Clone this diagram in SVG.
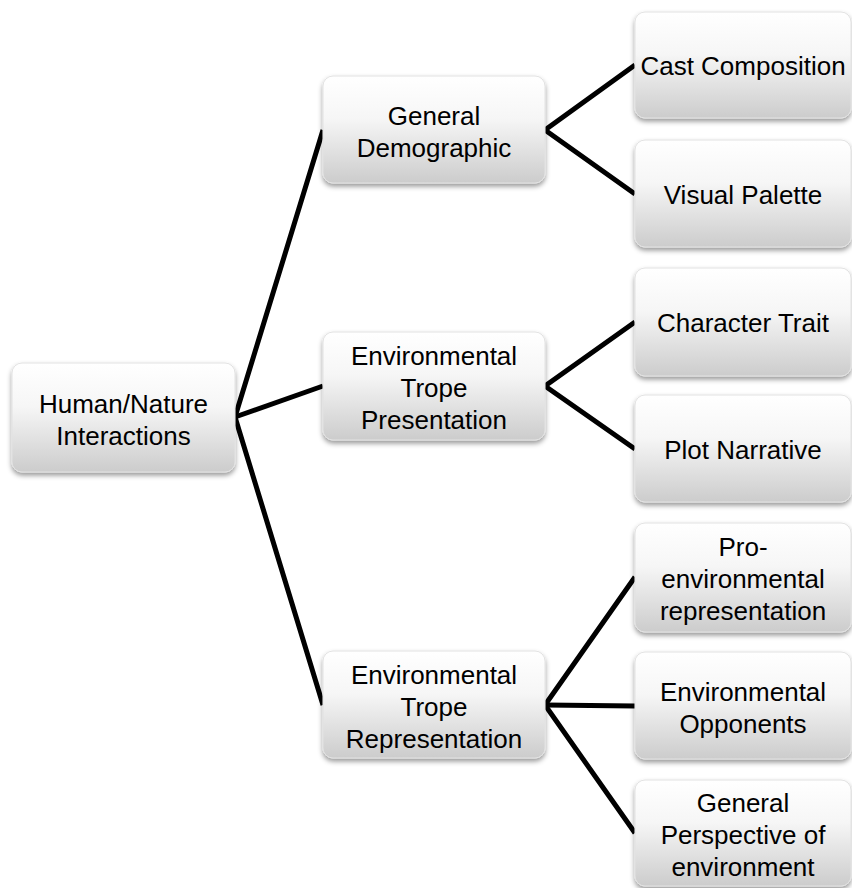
<svg xmlns="http://www.w3.org/2000/svg" width="852" height="888" viewBox="0 0 852 888">
<defs>
<linearGradient id="g" x1="0" y1="0" x2="0" y2="1">
<stop offset="0" stop-color="#ffffff"/>
<stop offset="0.4" stop-color="#f6f6f6"/>
<stop offset="1" stop-color="#cccccc"/>
</linearGradient>
<filter id="sh" x="-10%" y="-10%" width="120%" height="130%">
<feDropShadow dx="0" dy="3" stdDeviation="2.5" flood-color="#000" flood-opacity="0.4"/>
</filter>
</defs>
<style>
.box{fill:url(#g);stroke:#e2e2e2;stroke-width:1;filter:url(#sh)}
.t{font-family:"Liberation Sans",Arial,sans-serif;font-size:26px;fill:#000;text-anchor:middle}
.c{stroke:#000;stroke-width:5;fill:none;stroke-linejoin:miter;stroke-linecap:butt}
</style>
<rect width="852" height="888" fill="#fff"/>
<g id="connectors">
<polyline class="c" points="323,130 235,417 323,705"/>
<line class="c" x1="235" y1="417" x2="323" y2="386"/>
<polyline class="c" points="635,65 545,130 635,194"/>
<polyline class="c" points="635,322 545,386 635,449"/>
<polyline class="c" points="635,577 545,705 635,833"/>
<line class="c" x1="545" y1="705" x2="635" y2="706"/>
</g>
<g id="root">
<rect class="box" x="12" y="363" width="223" height="109" rx="10"/>
<text class="t" x="123.5" y="413">Human/Nature</text>
<text class="t" x="123.5" y="445">Interactions</text>
</g>
<g id="general-demographic">
<rect class="box" x="323" y="76" width="222" height="107" rx="10"/>
<text class="t" x="434" y="125">General</text>
<text class="t" x="434" y="157">Demographic</text>
</g>
<g id="env-trope-presentation">
<rect class="box" x="323" y="332" width="222" height="108" rx="10"/>
<text class="t" x="434" y="365">Environmental</text>
<text class="t" x="434" y="397">Trope</text>
<text class="t" x="434" y="429">Presentation</text>
</g>
<g id="env-trope-representation">
<rect class="box" x="323" y="651" width="222" height="107" rx="10"/>
<text class="t" x="434" y="684">Environmental</text>
<text class="t" x="434" y="716">Trope</text>
<text class="t" x="434" y="748">Representation</text>
</g>
<g id="cast-composition">
<rect class="box" x="635" y="12" width="216" height="106" rx="10"/>
<text class="t" x="743" y="75">Cast Composition</text>
</g>
<g id="visual-palette">
<rect class="box" x="635" y="140" width="216" height="107" rx="10"/>
<text class="t" x="743" y="204">Visual Palette</text>
</g>
<g id="character-trait">
<rect class="box" x="635" y="268" width="216" height="108" rx="10"/>
<text class="t" x="743" y="332">Character Trait</text>
</g>
<g id="plot-narrative">
<rect class="box" x="635" y="395" width="216" height="107" rx="10"/>
<text class="t" x="743" y="459">Plot Narrative</text>
</g>
<g id="pro-environmental">
<rect class="box" x="635" y="523" width="216" height="109" rx="10"/>
<text class="t" x="743" y="556">Pro-</text>
<text class="t" x="743" y="588">environmental</text>
<text class="t" x="743" y="620">representation</text>
</g>
<g id="env-opponents">
<rect class="box" x="635" y="652" width="216" height="107" rx="10"/>
<text class="t" x="743" y="701">Environmental</text>
<text class="t" x="743" y="733">Opponents</text>
</g>
<g id="general-perspective">
<rect class="box" x="635" y="780" width="216" height="106" rx="10"/>
<text class="t" x="743" y="812">General</text>
<text class="t" x="743" y="844">Perspective of</text>
<text class="t" x="743" y="876">environment</text>
</g>
</svg>
